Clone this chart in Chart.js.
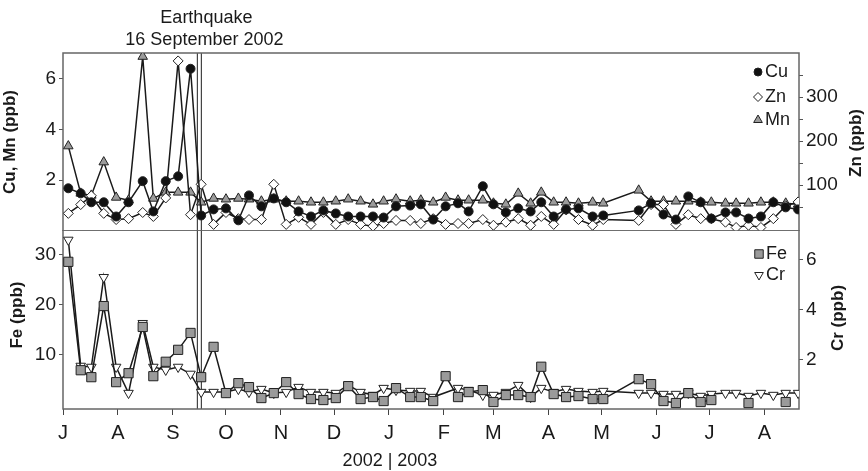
<!DOCTYPE html>
<html>
<head>
<meta charset="utf-8">
<script src="https://cdn.jsdelivr.net/npm/chart.js"></script>
<style>
  body { margin: 0; background: #fff; }
  #wrap { position: relative; width: 868px; height: 471px; }
  canvas { position: absolute; left: 0; }
  #top { top: 0; }
  #bottom { top: 230px; }
</style>
</head>
<body>
<div id="wrap">
  <canvas id="top" width="868" height="231"></canvas>
  <canvas id="bottom" width="868" height="241"></canvas>
</div>
<script>
var FONT = '"Liberation Sans", Arial, sans-serif';
var INK = '#1a1a1a';

// sampling days, counted from 1 July 2002
var sampleDay = [3,10,16,23,30,37,45,51,58,65, 72,78,85,92,99,105,112,119,126,133,
  140,147,154,161,168,175,181,188,196,202, 209,216,223,229,237,243,250,257,264,270,
  277,284,291,299,305,325,332,339,346,353, 360,366,374,380,387,394,401,408,415];

// ppb
var cu = [1.68,1.48,1.13,1.13,0.57,1.13,1.96,0.77,1.96,2.15, 6.38,0.61,0.85,0.89,0.42,1.40,0.97,1.28,1.13,0.77,
  0.57,0.81,0.69,0.57,0.57,0.57,0.53,0.97,1.0,1.05, 0.45,0.97,1.09,0.77,1.76,1.05,0.73,0.89,0.77,1.13,
  0.57,0.85,0.89,0.57,0.61,0.81,1.09,0.65,0.45,1.36, 1.13,0.49,0.73,0.73,0.49,0.57,1.13,0.93,0.85];
var zn = [36,56,76,36,22,24,38,29,71,382, 33,102,11,38,24,22,22,102,11,27,
  11,38,11,22,11,7,13,20,20,13, 24,11,13,13,22,9,16,24,9,29,
  11,44,22,9,22,20,56,56,11,33, 24,24,16,4,9,4,24,53,62];
var mn = [3.34,1.48,1.40,2.71,1.32,1.21,6.86,1.28,1.52,1.52, 1.52,1.13,1.28,1.25,1.28,1.25,1.17,1.25,1.17,1.17,
  1.13,1.13,1.17,1.25,1.17,1.05,1.17,1.25,1.17,1.21, 1.13,1.32,1.21,1.21,1.21,1.09,1.05,1.48,1.09,1.52,
  1.13,1.13,1.09,1.13,1.09,1.60,1.17,1.17,1.17,1.17, 1.13,1.13,1.09,1.09,1.09,1.13,1.13,1.09,1.05];
var fe = [28.6,6.8,5.4,19.7,4.4,6.2,15.5,5.6,8.5,10.9, 14.3,5.4,11.5,2.2,4.2,3.4,1.2,2.2,4.4,2.0,
  1.0,0.8,1.2,3.6,1.0,1.4,0.6,3.2,1.4,1.4, 0.6,5.6,1.4,2.4,2.8,0.4,1.8,1.8,1.4,7.5,
  2.0,1.4,1.6,1.0,1.0,5.0,4.0,0.6,0.2,2.2, 0.4,0.8,null,null,0.2,null,null,0.4,null];
var cr = [6.8,1.73,1.69,5.3,1.69,0.64,3.45,1.69,1.57,1.69, 1.41,0.68,0.68,0.68,0.80,0.68,0.80,0.64,0.68,0.88,
  0.68,0.68,0.64,0.96,0.68,0.56,0.84,0.76,0.72,0.72, 0.48,null,0.84,0.76,0.56,0.56,0.68,0.96,0.48,0.84,
  0.68,0.80,0.72,0.68,0.72,0.64,0.64,0.60,0.60,0.64, 0.52,0.60,0.64,0.64,0.52,0.64,0.56,0.64,0.64];

var monthDay = [0,31,62,92,123,153,184,215,243,274,304,335,365,396];
var monthLabel = ['J','A','S','O','N','D','J','F','M','A','M','J','J','A'];
var quakeDay = 77;
var cuMnTicks = [2,4,6];
var znTicks = [50,100,150,200,250,300,350];
var znLabelled = [100,200,300];
var feTicks = [10,20,30];
var crTicks = [2,4,6];

function pts(vals) {
  return sampleDay.map(function (d, i) { return { x: d, y: vals[i] }; });
}
function fixTicks(list) {
  return function (scale) { scale.ticks = list.map(function (v) { return { value: v }; }); };
}

function yAxis(pos, min, max, ticks, width, labelFn) {
  return {
    position: pos, min: min, max: max,
    afterBuildTicks: fixTicks(ticks),
    afterFit: function (s) { s.width = width; s.paddingTop = 0; s.paddingBottom = 0; },
    grid: { display: true, drawOnChartArea: false, tickLength: 4, color: '#555' },
    border: { display: false },
    ticks: {
      font: { family: FONT, size: 19 }, color: INK, padding: 3,
      callback: labelFn || function (v) { return v; }
    }
  };
}

var xHidden = { type: 'linear', min: 0, max: 415.5, display: false };

function line(label, vals, axis, style, radius, fill, extra) {
  var ds = {
    label: label, data: pts(vals), yAxisID: axis,
    borderColor: INK, borderWidth: 1.5, tension: 0,
    pointStyle: style, pointRadius: radius, pointHoverRadius: radius,
    pointBackgroundColor: fill, pointBorderColor: '#222', pointBorderWidth: 1
  };
  for (var k in extra) ds[k] = extra[k];
  return ds;
}

function text(c, s, x, y, font, rot) {
  c.save();
  c.translate(x, y);
  if (rot) c.rotate(rot);
  c.font = font;
  c.fillStyle = INK;
  c.textAlign = 'center';
  c.textBaseline = 'middle';
  c.fillText(s, 0, 0);
  c.restore();
}

function legend(chart, x, ys) {
  var c = chart.ctx;
  chart.data.datasets.forEach(function (ds, i) {
    c.save();
    c.fillStyle = ds.pointBackgroundColor;
    c.strokeStyle = ds.pointBorderColor;
    c.lineWidth = 1;
    Chart.helpers.drawPoint(c, {
      pointStyle: ds.pointStyle, radius: ds.pointRadius - 0.5,
      rotation: ds.pointRotation || 0, borderWidth: 1
    }, x, ys[i]);
    c.restore();
    c.save();
    c.font = '18px ' + FONT;
    c.fillStyle = INK;
    c.textBaseline = 'middle';
    c.fillText(ds.label, x + 7, ys[i]);
    c.restore();
  });
}

var panelDeco = {
  id: 'panelDeco',
  beforeDatasetsDraw: function (chart) {
    var c = chart.ctx, a = chart.chartArea;
    var qx = chart.scales.x.getPixelForValue(quakeDay);
    c.save();
    c.strokeStyle = '#444';
    c.lineWidth = 1.2;
    [qx - 2, qx + 2].forEach(function (lx) {
      c.beginPath(); c.moveTo(lx, a.top); c.lineTo(lx, a.bottom); c.stroke();
    });
    c.strokeStyle = '#666';
    c.lineWidth = 1.5;
    c.strokeRect(a.left, a.top, a.right - a.left, a.bottom - a.top);
    c.restore();
  },
  afterDraw: function (chart) {
    var c = chart.ctx;
    var bold = 'bold 17px ' + FONT;
    if (chart.canvas.id === 'top') {
      var qx = chart.scales.x.getPixelForValue(quakeDay);
      text(c, 'Earthquake', qx + 7, 18, '18px ' + FONT);
      text(c, '16 September 2002', qx + 5, 40, '18px ' + FONT);
      text(c, 'Cu, Mn (ppb)', 10, 142, bold, -Math.PI / 2);
      text(c, 'Zn (ppb)', 856, 143, bold, -Math.PI / 2);
      legend(chart, 758, [72, 97, 120]);
    } else {
      text(c, 'Fe (ppb)', 17, 85, bold, -Math.PI / 2);
      text(c, 'Cr (ppb)', 838, 88, bold, -Math.PI / 2);
      text(c, '2002 | 2003', 390, 231, '18px ' + FONT);
      legend(chart, 759, [24, 45]);
    }
  }
};

new Chart(document.getElementById('top'), {
  type: 'line',
  data: {
    datasets: [
      line('Cu', cu, 'yL', 'circle', 4.5, '#111'),
      line('Zn', zn, 'yR', 'rectRot', 5, '#fff'),
      line('Mn', mn, 'yL', 'triangle', 5.5, '#9b9b9b')
    ]
  },
  options: {
    responsive: false, animation: false,
    layout: { autoPadding: false, padding: { top: 53, bottom: 0, left: 0, right: 0 } },
    plugins: { legend: { display: false }, tooltip: { enabled: false } },
    scales: {
      x: xHidden,
      yL: yAxis('left', 0, 7, cuMnTicks, 63),
      yR: yAxis('right', -4, 400, znTicks, 69, function (v) {
        return znLabelled.indexOf(v) >= 0 ? v : '';
      })
    }
  },
  plugins: [panelDeco]
});

new Chart(document.getElementById('bottom'), {
  type: 'line',
  data: {
    datasets: [
      line('Fe', fe, 'yL', 'rect', 6.5, '#9a9a9a', { spanGaps: false }),
      line('Cr', cr, 'yR', 'triangle', 5.5, '#fff', { spanGaps: true, pointRotation: 180 })
    ]
  },
  options: {
    responsive: false, animation: false,
    layout: { autoPadding: false, padding: { top: 0, bottom: 0, left: 0, right: 0 } },
    plugins: { legend: { display: false }, tooltip: { enabled: false } },
    scales: {
      x: {
        type: 'linear', min: 0, max: 415.5, position: 'bottom',
        afterBuildTicks: fixTicks(monthDay),
        afterFit: function (s) { s.height = 62; s.paddingLeft = 0; s.paddingRight = 0; },
        grid: { display: true, drawOnChartArea: false, tickLength: 6, color: '#444' },
        border: { display: false },
        ticks: {
          font: { family: FONT, size: 20 }, color: INK, padding: 6, maxRotation: 0,
          autoSkip: false,
          callback: function (v, i) { return monthLabel[i]; }
        }
      },
      yL: yAxis('left', -1, 35, feTicks, 63),
      yR: yAxis('right', 0, 7.2, crTicks, 69)
    }
  },
  plugins: [panelDeco]
});
</script>
</body>
</html>
